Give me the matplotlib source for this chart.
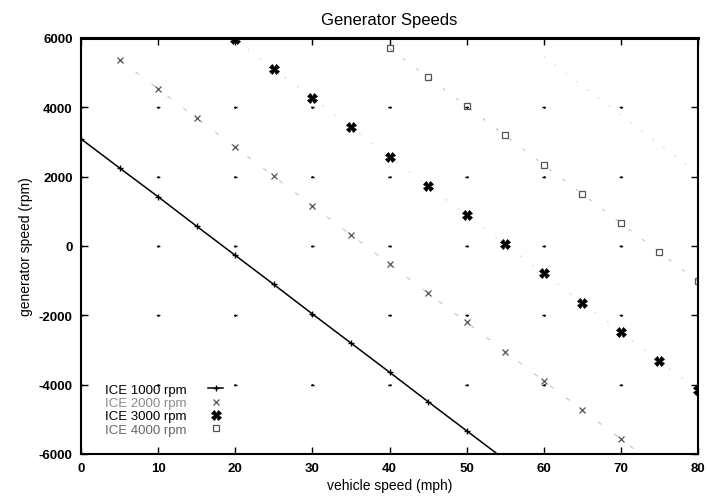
import matplotlib
matplotlib.use("Agg")
import matplotlib.pyplot as plt

plt.rcParams['font.family'] = ['Liberation Sans', 'DejaVu Sans']
plt.rcParams['axes.unicode_minus'] = False

# vehicle speed (mph) and generator speed (rpm) for each engine speed
speed_1000 = [0, 5, 10, 15, 20, 25, 30, 35, 40, 45, 50, 55]
gen_1000 = [3090, 2250, 1420, 570, -270, -1110, -1960, -2800, -3640, -4490, -5330, -6170]

speed_2000 = [5, 10, 15, 20, 25, 30, 35, 40, 45, 50, 55, 60, 65, 70, 75]
gen_2000 = [5370, 4530, 3690, 2850, 2010, 1160, 320, -520, -1360, -2200, -3050, -3890, -4730, -5570, -6410]

speed_3000 = [20, 25, 30, 35, 40, 45, 50, 55, 60, 65, 70, 75, 80]
gen_3000 = [5960, 5110, 4270, 3420, 2580, 1740, 890, 50, -790, -1640, -2480, -3320, -4160]

speed_4000 = [40, 45, 50, 55, 60, 65, 70, 75, 80]
gen_4000 = [5700, 4870, 4030, 3190, 2340, 1500, 660, -180, -1020]

speed_5000 = [60, 65, 70, 75, 80]
gen_5000 = [5470, 4620, 3780, 2940, 2100]

labels = ['ICE 1000 rpm', 'ICE 2000 rpm', 'ICE 3000 rpm', 'ICE 4000 rpm']

x_ticks = list(range(0, 81, 10))
y_ticks = list(range(-6000, 6001, 2000))

fig = plt.figure(figsize=(7.07, 5.02), dpi=100)
ax = fig.add_axes([81 / 707, 1 - 455 / 502, 617 / 707, 416 / 502])
ax.set_xlim(0, 80)
ax.set_ylim(-6000, 6000)

# sparse dotted grid: short dashes only where grid lines cross
px = 72.0 / 100.0
ypitch = 416 / 6 * px
xpitch = 617 / 8 * px
on_v, on_h = 2.0 * px, 3.5 * px
ax.xaxis.grid(True, color='black', lw=1.0,
              linestyle=(on_v / 2, (on_v, ypitch - on_v)))
ax.yaxis.grid(True, color='black', lw=1.0,
              linestyle=(on_h / 2, (on_h, xpitch - on_h)))
ax.set_axisbelow(True)

h1, = ax.plot(speed_1000, gen_1000, color='black', lw=1.1, marker='+',
              ms=5, mew=1.0, label=labels[0])
ax.plot(speed_2000, gen_2000, color='#c4c4c4', lw=0.8,
        linestyle=(0, (4, 14)))
h2, = ax.plot(speed_2000, gen_2000, color='#555555', lw=0, marker='x',
              ms=4.5, mew=0.9, label=labels[1])
ax.plot(speed_3000, gen_3000, color='#d0d0d0', lw=0.7,
        linestyle=(0, (2, 14)))
h3, = ax.plot(speed_3000, gen_3000, color='black', lw=0, marker='X',
              ms=7, mew=0.5, mec='black', label=labels[2])
ax.plot(speed_4000, gen_4000, color='#c4c4c4', lw=0.8,
        linestyle=(0, (3, 12)))
h4, = ax.plot(speed_4000, gen_4000, color='#555555', lw=0, marker='s',
              ms=4.5, mfc='none', mew=0.9, label=labels[3])
ax.plot(speed_5000, gen_5000, color='#d5d5d5', lw=0.7,
        linestyle=(0, (2, 12)))

ax.set_xticks(x_ticks)
ax.set_yticks(y_ticks)
ax.tick_params(direction='in', length=5, width=1.0, top=True, right=True,
               labelsize=9.5, pad=6)
for lab in ax.get_xticklabels() + ax.get_yticklabels():
    lab.set_fontweight('bold')

for side in ['left', 'right', 'bottom']:
    ax.spines[side].set_linewidth(1.5)
ax.spines['top'].set_linewidth(2.2)

ax.set_title('Generator Speeds', fontsize=12, pad=10)
ax.set_xlabel('vehicle speed (mph)', fontsize=10, labelpad=3)
ax.set_ylabel('generator speed (rpm)', fontsize=10, labelpad=4)

leg = ax.legend(handles=[h1, h2, h3, h4], loc='upper left',
                bbox_to_anchor=(0.028, 0.185), frameon=False,
                markerfirst=False, handlelength=1.2, handletextpad=1.6,
                labelspacing=0.08, fontsize=9.5, borderpad=0, numpoints=1)
leg.get_texts()[1].set_color('#8a8a8a')
leg.get_texts()[3].set_color('#666666')

fig.savefig('out.png', dpi=100)
